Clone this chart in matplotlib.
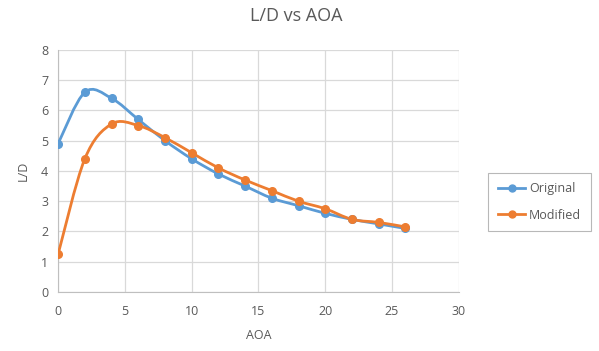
import matplotlib
matplotlib.use("Agg")
import matplotlib.pyplot as plt
from matplotlib.path import Path
import matplotlib.patches as patches

plt.rcParams['font.family'] = ['Open Sans', 'DejaVu Sans']

aoa = [0, 2, 4, 6, 8, 10, 12, 14, 16, 18, 20, 22, 24, 26]
original = [4.9, 6.6, 6.4, 5.7, 5.0, 4.4, 3.9, 3.5, 3.1, 2.85, 2.6, 2.4, 2.25, 2.1]
modified = [1.25, 4.4, 5.55, 5.5, 5.1, 4.6, 4.1, 3.7, 3.35, 3.0, 2.75, 2.4, 2.3, 2.15]

blue = '#5B9BD5'
orange = '#ED7D31'


def smooth_path(xs, ys):
    # excel style smoothed line: catmull-rom turned into bezier segments
    verts = [(xs[0], ys[0])]
    codes = [Path.MOVETO]
    n = len(xs)
    for i in range(n - 1):
        x0, y0 = xs[max(i - 1, 0)], ys[max(i - 1, 0)]
        x1, y1 = xs[i], ys[i]
        x2, y2 = xs[i + 1], ys[i + 1]
        x3, y3 = xs[min(i + 2, n - 1)], ys[min(i + 2, n - 1)]
        c1 = (x1 + (x2 - x0) / 6., y1 + (y2 - y0) / 6.)
        c2 = (x2 - (x3 - x1) / 6., y2 - (y3 - y1) / 6.)
        verts += [c1, c2, (x2, y2)]
        codes += [Path.CURVE4] * 3
    return Path(verts, codes)


fig = plt.figure(figsize=(5.99, 3.51), dpi=100)
ax = fig.add_axes([0.097, 0.168, 0.669, 0.69])

for ys, col, name in [(original, blue, 'Original'), (modified, orange, 'Modified')]:
    ax.add_patch(patches.PathPatch(smooth_path(aoa, ys), facecolor='none',
                                   edgecolor=col, lw=2.0, zorder=3))
    ax.plot(aoa, ys, linestyle='none', marker='o', markersize=5.5, color=col,
            zorder=4)
    ax.plot([], [], color=col, lw=2.0, marker='o', markersize=5, label=name)

ax.set_xlim(0, 30)
ax.set_ylim(0, 8)
ax.set_xticks(range(0, 31, 5))
ax.set_yticks(range(0, 9))
ax.grid(True, color='#D9D9D9', lw=0.9)
ax.set_axisbelow(True)
for s in ['top', 'right']:
    ax.spines[s].set_visible(False)
for s in ['left', 'bottom']:
    ax.spines[s].set_color('#BFBFBF')
ax.tick_params(length=0, labelsize=9, labelcolor='#595959')
ax.tick_params(axis='x', pad=9)
ax.tick_params(axis='y', pad=7)

ax.set_xlabel('AOA', fontsize=9, color='#595959', labelpad=8)
ax.set_ylabel('L/D', fontsize=9, color='#595959', labelpad=8)
fig.text(0.494, 0.955, 'L/D vs AOA', ha='center', va='center', fontsize=13,
         color='#595959')

leg = fig.legend(loc='center left', bbox_to_anchor=(0.805, 0.425), fontsize=9,
                 frameon=True, fancybox=False, handlelength=2.2,
                 labelspacing=1.1, handletextpad=0.3, borderpad=0.75)
leg.get_frame().set_edgecolor('#A6A6A6')
leg.get_frame().set_linewidth(0.8)
for t in leg.get_texts():
    t.set_color('#595959')

fig.savefig('out.png', dpi=100)
